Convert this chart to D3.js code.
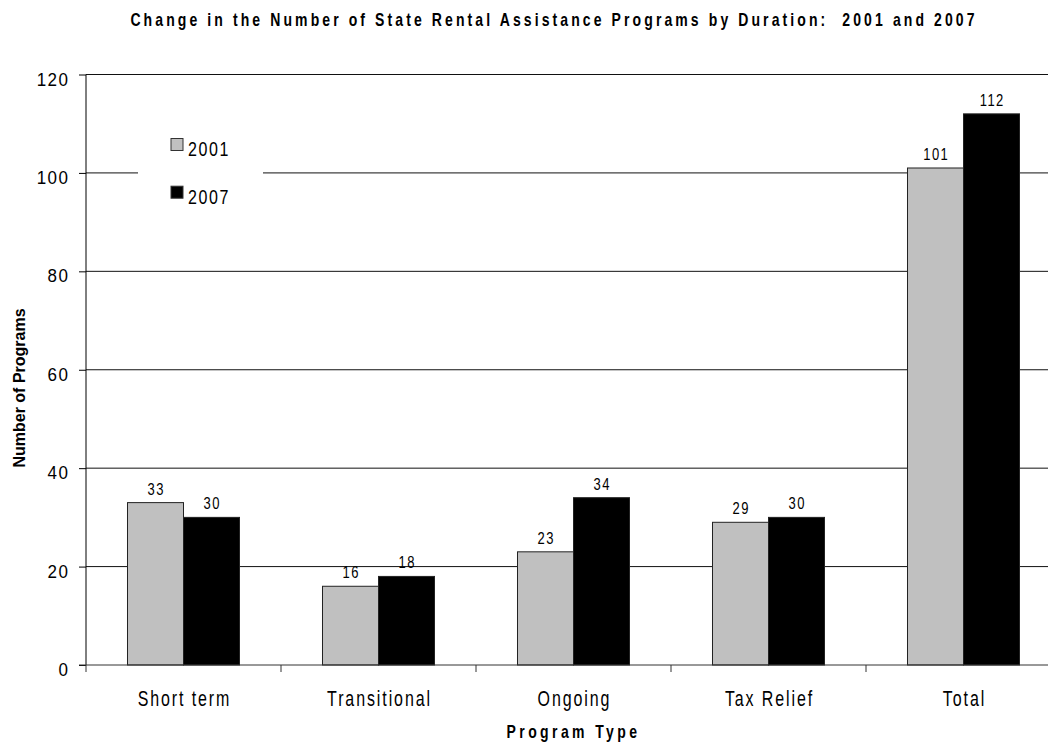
<!DOCTYPE html>
<html>
<head>
<meta charset="utf-8">
<script src="https://cdn.jsdelivr.net/npm/d3@7"></script>
<style>
  body { margin: 0; background: #fff; }
  svg { display: block; font-family: "Liberation Sans", Arial, sans-serif; }
</style>
</head>
<body>
<svg width="1048" height="743"></svg>
<script>
var categories = ['Short term', 'Transitional', 'Ongoing', 'Tax Relief', 'Total'];
var years = ['2001', '2007'];
var values2001 = [33, 16, 23, 29, 101];
var values2007 = [30, 18, 34, 30, 112];
var yTicks = [0, 20, 40, 60, 80, 100, 120];

var colors = {'2001': '#c0c0c0', '2007': '#000000'};

var svg = d3.select('svg');

// stretched text helper (source chart text is taller than wide)
function stext(parent, x, y, str, size, sy, opts) {
    opts = opts || {};
    var t = parent.append('text')
        .attr('transform', 'translate(' + x + ',' + y + ') scale(1,' + sy + ')')
        .style('font-size', size + 'px')
        .style('font-weight', opts.bold ? 'bold' : 'normal')
        .style('letter-spacing', (opts.ls || 0) + 'px')
        .attr('text-anchor', opts.anchor || 'middle')
        .attr('fill', '#000')
        .text(str);
    return t;
}

var x = d3.scaleBand().domain(categories).range([86, 1061]).padding(0);
var xs = d3.scaleBand().domain(years).range([0, x.bandwidth()]).paddingInner(0).paddingOuter(0.741);
var y = d3.scaleLinear().domain([0, 120]).range([665, 74.5]);

// gridlines
svg.append('g').selectAll('line').data(yTicks.filter(function(d) { return d > 0; }))
    .enter().append('line')
    .attr('x1', 86).attr('x2', 1061)
    .attr('y1', function(d) { return y(d); }).attr('y2', function(d) { return y(d); })
    .attr('stroke', '#111').attr('stroke-width', 1);

// legend box hides grid
var legend = svg.append('g');
legend.append('rect').attr('x', 138).attr('y', 125).attr('width', 125).attr('height', 88).attr('fill', '#fff');
years.forEach(function(yr, i) {
    var ly = 138.5 + i * 47.7;
    legend.append('rect').attr('x', 171).attr('y', ly).attr('width', 12).attr('height', 12)
        .attr('fill', colors[yr]).attr('stroke', '#333').attr('stroke-width', 1);
    stext(legend, 188, ly + 17.5, yr, 16, 1.25, {anchor: 'start', ls: 1.6});
});

// bars
var data = [];
categories.forEach(function(c, i) {
    data.push({cat: c, year: '2001', v: values2001[i]});
    data.push({cat: c, year: '2007', v: values2007[i]});
});

svg.append('g').selectAll('rect').data(data).enter().append('rect')
    .attr('x', function(d) { return x(d.cat) + xs(d.year); })
    .attr('y', function(d) { return y(d.v); })
    .attr('width', xs.bandwidth())
    .attr('height', function(d) { return y(0) - y(d.v); })
    .attr('fill', function(d) { return colors[d.year]; })
    .attr('stroke', '#222').attr('stroke-width', 1);

var labels = svg.append('g');
data.forEach(function(d) {
    stext(labels, x(d.cat) + xs(d.year) + xs.bandwidth() / 2 + 0.7, y(d.v) - 8, d.v, 13, 1.3, {ls: 1.4});
});

// y axis
svg.append('g')
    .attr('transform', 'translate(86,0)')
    .call(d3.axisLeft(y).tickValues(yTicks).tickSize(7).tickFormat(''))
    .call(function(g) {
        g.selectAll('path, line').attr('stroke', '#000');
        g.select('.domain').attr('d', 'M0,' + y(120) + 'V' + y(0));
    });
var ylab = svg.append('g');
yTicks.forEach(function(t) {
    stext(ylab, 69.5, y(t) + 11, t, 17, 1.05, {anchor: 'end', ls: 1.5});
});

// x axis
svg.append('g')
    .attr('transform', 'translate(0,665)')
    .call(function(g) {
        g.append('line').attr('x1', 79).attr('x2', 1061).attr('stroke', '#333');
        g.selectAll('.tk').data(categories).enter().append('line')
            .attr('x1', function(d) { return x(d); }).attr('x2', function(d) { return x(d); })
            .attr('y1', 0).attr('y2', 7).attr('stroke', '#333');
    });
var xlab = svg.append('g');
categories.forEach(function(c) {
    stext(xlab, x(c) + x.bandwidth() / 2 + 1, 705.5, c, 16, 1.33, {ls: 1.9});
});

// titles
stext(svg, 554, 25.5, 'Change in the Number of State Rental Assistance Programs by Duration:  2001 and 2007', 14, 1.27, {bold: true, ls: 3.1})
    .style('white-space', 'pre');
stext(svg, 573.5, 738, 'Program Type', 14, 1.3, {bold: true, ls: 3.4});
svg.append('text')
    .attr('transform', 'translate(25,388) rotate(-90)')
    .attr('text-anchor', 'middle')
    .style('font-size', '16px').style('font-weight', 'bold')
    .text('Number of Programs');
</script>
</body>
</html>
